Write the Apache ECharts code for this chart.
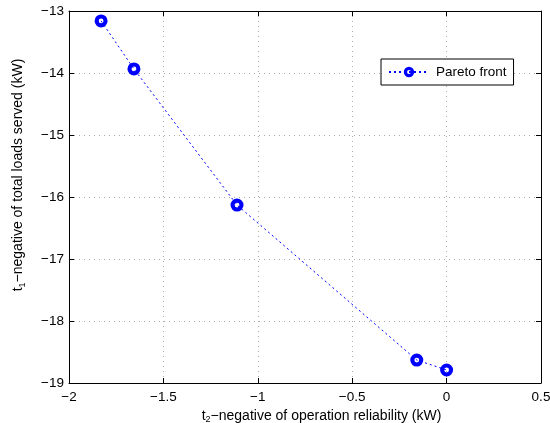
<!DOCTYPE html>
<html>
<head>
<meta charset="utf-8">
<script src="https://cdn.jsdelivr.net/npm/echarts@6/dist/echarts.min.js"></script>
<style>
html, body { margin: 0; padding: 0; background: #fff; }
#chart { width: 550px; height: 423px; }
</style>
</head>
<body>
<div id="chart"></div>
<script>
// Pareto front: t2 (operation reliability) vs t1 (total loads served), both negated
const reliability = [-1.83, -1.656, -1.11, -0.158, 0.0];
const loadsServed = [-13.16, -13.935, -16.13, -18.63, -18.79];
const seriesName = 'Pareto front';
const xTicks = { min: -2, max: 0.5, step: 0.5 };
const yTicks = { min: -19, max: -13, step: 1 };

const fontFamily = 'Liberation Sans, Arial, Helvetica, sans-serif';
const fontSize = 13.5;
const minusFmt = v => String(+v.toFixed(2)).replace('-', '\u2212');

// thick ring marker: outer circle clockwise, inner hole counter-clockwise
const ringSymbol = 'path://M0,-6.5A6.5,6.5 0 1,1 0,6.5A6.5,6.5 0 1,1 0,-6.5Z' +
                   'M0,-2.4A2.4,2.4 0 1,0 0,2.4A2.4,2.4 0 1,0 0,-2.4Z';

const chart = echarts.init(document.getElementById('chart'), null, { renderer: 'canvas' });

const baseAxis = {
  axisLine: { show: true, onZero: false, lineStyle: { color: '#000', width: 1 } },
  axisTick: { show: true, inside: true, length: 5, lineStyle: { color: '#000' } },
  splitLine: { show: false }
};

const nameRich = {
  t: { fontFamily, fontSize: 14, color: '#000' },
  s: { fontFamily, fontSize: 9, color: '#000', padding: [8, 0, 0, 0] }
};

const option = {
  backgroundColor: '#fff',
  animation: false,
  grid: { left: 69, right: 9, top: 11, bottom: 40, containLabel: false, outerBoundsMode: 'none' },
  legend: {
    data: [seriesName],
    left: 381, top: 59,
    padding: [6, 7, 6, 7],
    borderColor: '#000', borderWidth: 1,
    backgroundColor: '#fff',
    itemWidth: 40, itemHeight: 13, itemGap: 6,
    itemStyle: { borderWidth: 0 },
    textStyle: { fontFamily, fontSize, color: '#000', padding: [0, 0, 0, 2] }
  },
  xAxis: [
    Object.assign({}, baseAxis, {
      type: 'value', position: 'bottom',
      min: xTicks.min, max: xTicks.max, interval: xTicks.step,
      axisLabel: { color: '#000', fontFamily, fontSize, margin: 7, formatter: minusFmt },
      splitLine: { show: true, lineStyle: { color: '#aaa', type: [1, 4], width: 1 } },
      name: '{t|t}{s|2}{t|\u2212negative of operation reliability (kW)}',
      nameLocation: 'middle', nameGap: 20,
      nameTextStyle: { rich: nameRich, padding: [0, 0, 0, 33] }
    }),
    Object.assign({}, baseAxis, {
      type: 'value', position: 'top',
      min: xTicks.min, max: xTicks.max, interval: xTicks.step,
      axisLabel: { show: false }
    })
  ],
  yAxis: [
    Object.assign({}, baseAxis, {
      type: 'value', position: 'left',
      min: yTicks.min, max: yTicks.max, interval: yTicks.step,
      axisLabel: { color: '#000', fontFamily, fontSize, margin: 5, formatter: minusFmt },
      splitLine: { show: true, lineStyle: { color: '#aaa', type: [1, 4], width: 1 } },
      name: '{t|t}{s|1}{t|\u2212negative of total loads served (kW)}',
      nameLocation: 'middle', nameGap: 42, nameRotate: 90,
      nameTextStyle: { rich: nameRich, padding: [0, 0, 0, 44] }
    }),
    Object.assign({}, baseAxis, {
      type: 'value', position: 'right',
      min: yTicks.min, max: yTicks.max, interval: yTicks.step,
      axisLabel: { show: false }
    })
  ],
  series: [{
    name: seriesName,
    type: 'line',
    xAxisIndex: 0, yAxisIndex: 0,
    data: reliability.map((x, i) => [x, loadsServed[i]]),
    symbol: ringSymbol,
    symbolSize: 13,
    showAllSymbol: true,
    lineStyle: { color: '#0000ff', width: 1, type: [2, 3] },
    itemStyle: { color: '#0000ff', borderWidth: 0 }
  }]
};

chart.setOption(option);
</script>
</body>
</html>
